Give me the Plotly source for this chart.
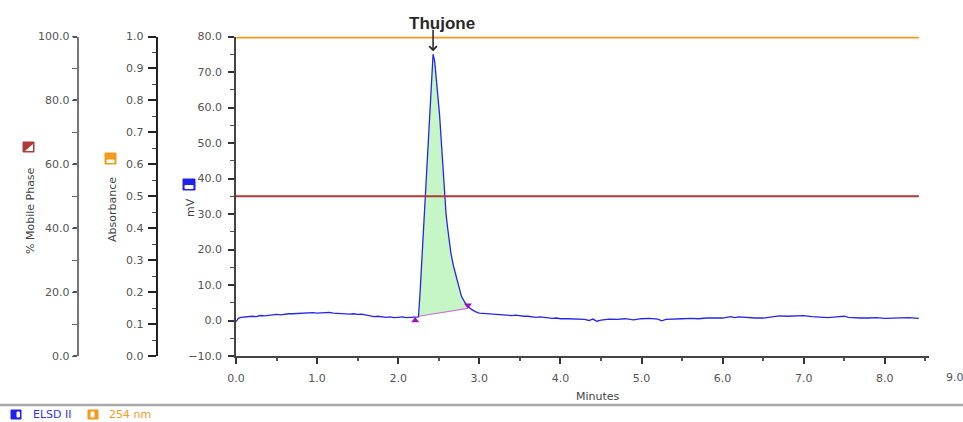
import plotly.graph_objects as go

W, H = 963, 422

# ---------------- data ----------------
time_min = [0.00, 0.03, 0.06, 0.10, 0.15, 0.20, 0.25, 0.30, 0.35, 0.40, 0.45, 0.50, 0.55, 0.60,
            0.65, 0.70, 0.75, 0.80, 0.85, 0.90, 0.95, 1.00, 1.05, 1.10, 1.15, 1.20, 1.25, 1.30,
            1.35, 1.40, 1.45, 1.50, 1.55, 1.60, 1.65, 1.70, 1.75, 1.80, 1.85, 1.90, 1.95, 2.00,
            2.05, 2.10, 2.15, 2.20, 2.25,
            2.27, 2.30, 2.33, 2.36, 2.39, 2.41, 2.43, 2.45, 2.47, 2.49, 2.51, 2.53, 2.55, 2.57,
            2.59, 2.61, 2.63, 2.65, 2.68, 2.72, 2.75, 2.78, 2.82, 2.86,
            2.90, 2.95, 3.00, 3.05, 3.10, 3.15, 3.20, 3.25, 3.30, 3.35, 3.40, 3.45, 3.50, 3.55,
            3.60, 3.65, 3.70, 3.75, 3.80, 3.85, 3.90, 3.95, 4.00, 4.10, 4.20, 4.30, 4.35, 4.40,
            4.45, 4.50, 4.60, 4.70, 4.80, 4.90, 5.00, 5.10, 5.20, 5.25, 5.30, 5.40, 5.50, 5.60,
            5.70, 5.80, 5.90, 6.00, 6.10, 6.15, 6.20, 6.30, 6.40, 6.50, 6.60, 6.70, 6.80, 6.90,
            7.00, 7.10, 7.20, 7.30, 7.40, 7.50, 7.55, 7.60, 7.70, 7.80, 7.90, 8.00, 8.10, 8.20,
            8.30, 8.42]
elsd_mv = [-0.3, 0.6, 0.9, 1.0, 1.1, 1.2, 1.1, 1.4, 1.3, 1.5, 1.6, 1.7, 1.6, 1.8,
           1.9, 1.9, 2.0, 2.1, 2.0, 2.1, 2.2, 2.1, 2.2, 2.1, 2.3, 2.1, 2.0, 2.1,
           1.9, 1.8, 1.9, 1.7, 1.8, 1.6, 1.3, 1.1, 1.2, 1.0, 0.9, 1.0, 0.8, 0.9,
           1.0, 0.8, 0.9, 0.8, 1.0,
           8.0, 20.0, 32.0, 45.0, 58.0, 67.0, 75.0, 73.0, 68.0, 64.0, 58.0, 51.0, 43.0, 35.0,
           30.0, 26.0, 22.5, 19.0, 15.5, 12.0, 9.0, 6.8, 5.2, 4.0,
           3.2, 2.5, 2.1, 2.0, 1.9, 1.8, 1.8, 1.6, 1.5, 1.6, 1.4, 1.5, 1.3, 1.2,
           1.2, 1.0, 0.9, 1.0, 0.8, 0.7, 0.6, 0.7, 0.5, 0.5, 0.4, 0.3, 0.0, 0.4,
           -0.2, 0.1, 0.4, 0.3, 0.5, 0.2, 0.5, 0.6, 0.4, -0.1, 0.3, 0.5, 0.5, 0.6,
           0.5, 0.7, 0.6, 0.7, 1.1, 0.8, 1.0, 0.8, 0.7, 0.7, 1.0, 1.3, 1.2, 1.3,
           1.4, 1.1, 1.0, 0.8, 1.0, 1.2, 0.9, 0.8, 0.7, 0.7, 0.8, 0.6, 0.7, 0.6,
           0.8, 0.6]

peak_name = "Thujone"
peak_start, peak_end = 2.25, 2.86          # integration limits (min)
baseline_mv = [1.2, 3.4]                   # integration baseline at start / end
marker_times = [2.21, 2.86]
marker_mv = [0.0, 4.3]
apex_time, apex_mv = 2.43, 75.0

run_times = [0.0, 8.42]
mobile_phase_pct = [50, 50]                # % mobile phase
abs_254nm = [0.997, 0.997]                 # absorbance at 254 nm

x_tick_vals = [0, 1, 2, 3, 4, 5, 6, 7, 8]
x_tick_text = ["0.0", "1.0", "2.0", "3.0", "4.0", "5.0", "6.0", "7.0", "8.0"]
x_extra_label = "9.0"
mv_ticks = [-10, 0, 10, 20, 30, 40, 50, 60, 70, 80]
abs_ticks = [0.0, 0.1, 0.2, 0.3, 0.4, 0.5, 0.6, 0.7, 0.8, 0.9, 1.0]
pct_ticks = [0, 20, 40, 60, 80, 100]

# ---------------- layout helpers ----------------
FONT = "DejaVu Sans"
TICK_FONT = dict(family=FONT, size=11, color="#555555")
TITLE_FONT = dict(family=FONT, size=11, color="#444444")


def px(x):
    return x / W


def py(y):
    return (H - y) / H


X0, X1 = 236.0, 929.4
Y_BOTTOM, Y_TOP = 356.0, 36.5

fig = go.Figure()

# peak fill
pk = [i for i, t in enumerate(time_min) if peak_start <= t <= peak_end]
fill_x = [time_min[i] for i in pk] + [peak_end, peak_start]
fill_y = [elsd_mv[i] for i in pk] + [baseline_mv[1], baseline_mv[0]]
fig.add_trace(go.Scatter(x=fill_x, y=fill_y, fill="toself", fillcolor="#c6f5c6",
                         mode="lines", line=dict(width=0), hoverinfo="skip", showlegend=False))
# integration baseline
fig.add_trace(go.Scatter(x=[peak_start, peak_end], y=baseline_mv, mode="lines",
                         line=dict(color="#d070d0", width=1.2), showlegend=False))
# ELSD trace
fig.add_trace(go.Scatter(x=time_min, y=elsd_mv, mode="lines",
                         line=dict(color="#2626e8", width=1.3), showlegend=False))
# integration markers
fig.add_trace(go.Scatter(x=marker_times, y=marker_mv, mode="markers",
                         marker=dict(symbol=["triangle-up", "triangle-down"], size=7,
                                     color="#a010c0"), showlegend=False))
# % mobile phase
fig.add_trace(go.Scatter(x=run_times, y=mobile_phase_pct, yaxis="y3", mode="lines",
                         line=dict(color="#b03a36", width=2.2), showlegend=False))
# 254 nm
fig.add_trace(go.Scatter(x=run_times, y=abs_254nm, yaxis="y2", mode="lines",
                         line=dict(color="#f59a1e", width=2), showlegend=False))

ydom = [py(Y_BOTTOM), py(Y_TOP)]

fig.update_layout(
    template="none",
    width=W, height=H,
    margin=dict(l=0, r=0, t=0, b=0, autoexpand=False),
    paper_bgcolor="white", plot_bgcolor="white",
    showlegend=False,
    xaxis=dict(domain=[px(X0), px(X1)], range=[0, 8.55], anchor="y", automargin=False,
               tickmode="array", tickvals=x_tick_vals, ticktext=x_tick_text,
               ticks="outside", ticklen=6, tickwidth=2, tickcolor="#333333",
               minor=dict(dtick=0.5, tick0=0, ticks="outside", ticklen=3, tickwidth=1.5,
                          tickcolor="#555555", showgrid=False),
               showline=True, linecolor="#444444", linewidth=1.5,
               showgrid=False, zeroline=False, tickfont=TICK_FONT, ticklabelstandoff=5),
    yaxis=dict(domain=ydom, range=[-10, 80], anchor="x", automargin=False,
               tickmode="array", tickvals=mv_ticks, tickformat=".1f",
               ticks="outside", ticklen=6, tickwidth=1.5, tickcolor="#333333",
               minor=dict(dtick=5, tick0=0, ticks="outside", ticklen=4, tickwidth=1,
                          tickcolor="#555555", showgrid=False),
               showline=True, linecolor="#444444", linewidth=1.5,
               showgrid=False, zeroline=False, tickfont=TICK_FONT, ticklabelstandoff=4),
    yaxis2=dict(domain=ydom, range=[0, 1], overlaying="y", anchor="free", automargin=False,
                position=px(156.7), side="left",
                tickmode="array", tickvals=abs_ticks, tickformat=".1f",
                ticks="outside", ticklen=8, tickwidth=2, tickcolor="#222222",
                minor=dict(dtick=0.05, tick0=0, ticks="outside", ticklen=4, tickwidth=1,
                           tickcolor="#444444", showgrid=False),
                showline=True, linecolor="#222222", linewidth=2,
                showgrid=False, zeroline=False, tickfont=TICK_FONT, ticklabelstandoff=2),
    yaxis3=dict(domain=ydom, range=[0, 100], overlaying="y", anchor="free", automargin=False,
                position=px(77.5), side="left",
                tickmode="array", tickvals=pct_ticks, tickformat=".1f",
                ticks="outside", ticklen=4, tickwidth=1.5, tickcolor="#555555",
                minor=dict(dtick=10, tick0=0, ticks="outside", ticklen=5, tickwidth=1,
                           tickcolor="#666666", showgrid=False),
                showline=True, linecolor="#777777", linewidth=1.5,
                showgrid=False, zeroline=False, tickfont=TICK_FONT, ticklabelstandoff=1),
)


def label(x, y, text, font, angle=0, xanchor="center"):
    return dict(x=px(x), y=py(y), xref="paper", yref="paper", text=text, textangle=angle,
                xanchor=xanchor, yanchor="middle", showarrow=False, font=font)


ann = []
# peak arrow
ann.append(dict(x=apex_time, y=apex_mv, xref="x", yref="y", text="",
                showarrow=True, ax=0, ay=-26, arrowhead=4, arrowsize=1, arrowwidth=1.5,
                arrowcolor="#222222", standoff=3))
# peak name, placed above the arrow
ann.append(dict(x=apex_time, y=apex_mv, xref="x", yref="y", text=f"<b>{peak_name}</b>",
                showarrow=False, xanchor="center", yanchor="middle", xshift=9, yshift=31,
                font=dict(family="Liberation Sans", size=17, color="#2a2a2a")))
# extra x tick label beyond the axis
ann.append(label(955, 377.5, x_extra_label, TICK_FONT))
# axis titles
ann.append(label(30, 211, "% Mobile Phase", TITLE_FONT, angle=-90))
ann.append(label(112, 210, "Absorbance", TITLE_FONT, angle=-90))
ann.append(label(190, 208, "mV", TITLE_FONT, angle=-90))
ann.append(label(598, 396, "Minutes", TITLE_FONT))
# bottom legend texts
ann.append(label(31, 414, "ELSD II", dict(family=FONT, size=11, color="#3535f0"), xanchor="left"))
ann.append(label(107, 414, "254 nm", dict(family=FONT, size=11, color="#f59a1e"), xanchor="left"))
fig.update_layout(annotations=ann)


def rect(x0, y0, x1, y1, fill, line):
    return dict(type="rect", xref="paper", yref="paper", x0=px(x0), x1=px(x1),
                y0=py(y1), y1=py(y0), fillcolor=fill, line=dict(color=line, width=1))


shapes = []
# % mobile phase icon (red with white corner)
shapes.append(rect(23, 142, 34, 152, "#b03a36", "#b03a36"))
shapes.append(dict(type="path", xref="paper", yref="paper",
                   path=f"M {px(25)},{py(151)} L {px(33)},{py(151)} L {px(33)},{py(144)} Z",
                   fillcolor="white", line=dict(width=0)))
# absorbance icon (orange)
shapes.append(rect(105, 153, 116, 164, "#f59a1e", "#f59a1e"))
shapes.append(rect(107, 160, 114, 162.5, "white", "white"))
# mV icon (blue)
shapes.append(rect(183, 179, 195, 190, "#2020ee", "#2020ee"))
shapes.append(rect(185, 185.5, 193, 188.5, "white", "white"))
# separator line
shapes.append(dict(type="line", xref="paper", yref="paper", x0=0.0, x1=1.0,
                   y0=py(405), y1=py(405), line=dict(color="#a8a8a8", width=2.5)))
# legend icons
shapes.append(rect(11, 410, 21, 419, "#2020ee", "#2020ee"))
shapes.append(rect(17, 412, 19.5, 417, "white", "white"))
shapes.append(rect(88, 410, 98, 419, "#f59a1e", "#f59a1e"))
shapes.append(rect(91, 412, 94, 417, "white", "white"))
fig.update_layout(shapes=shapes)

fig.write_html("out.html", config={"displayModeBar": False},
               post_script="document.body.style.margin='0';document.body.style.overflow='hidden';")
